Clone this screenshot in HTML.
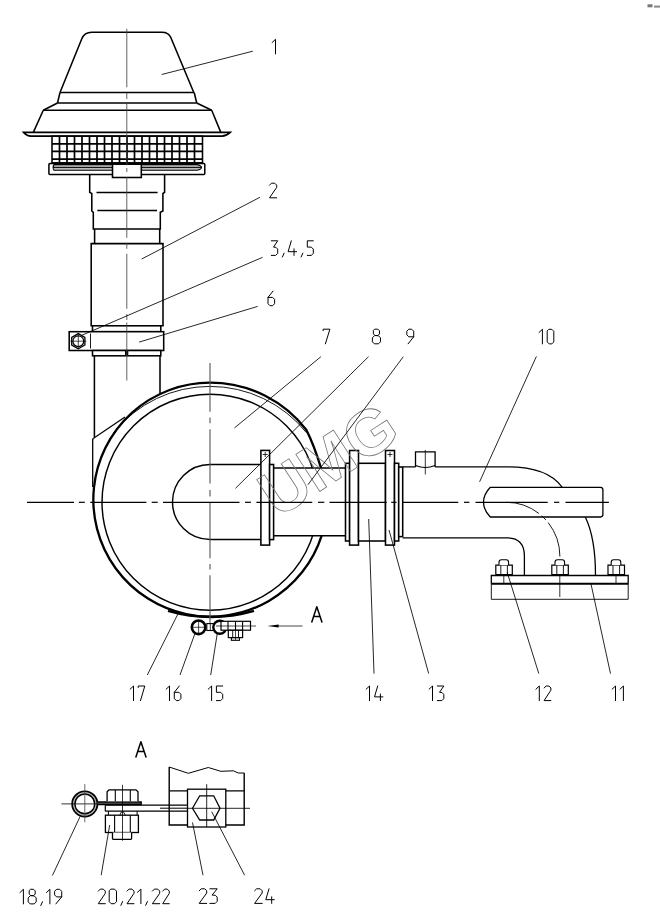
<!DOCTYPE html>
<html><head><meta charset="utf-8"><style>
html,body{margin:0;padding:0;background:#fff;width:660px;height:924px;overflow:hidden;font-family:"Liberation Sans",sans-serif;}
svg{display:block}
</style></head><body>
<svg width="660" height="924" viewBox="0 0 660 924" stroke-linecap="butt">
<rect x="0" y="0" width="660" height="924" fill="#fff"/>
<path d="M60,92.5 L81.7,39 Q84.4,32.3 91.7,32.3 L161.7,32.3 Q168.7,32.3 170.8,37.5 L193.8,92.5" stroke="#000" stroke-width="1.55" fill="none" />
<line x1="60.00" y1="92.50" x2="194.20" y2="92.50" stroke="#000" stroke-width="1.55" />
<line x1="60.00" y1="92.50" x2="57.50" y2="103.00" stroke="#000" stroke-width="1.55" />
<line x1="194.20" y1="92.50" x2="196.70" y2="103.00" stroke="#000" stroke-width="1.55" />
<line x1="57.50" y1="103.00" x2="196.70" y2="103.00" stroke="#000" stroke-width="1.55" />
<line x1="57.50" y1="103.00" x2="43.30" y2="110.30" stroke="#000" stroke-width="1.55" />
<line x1="196.70" y1="103.00" x2="211.70" y2="110.30" stroke="#000" stroke-width="1.55" />
<line x1="43.30" y1="110.30" x2="211.70" y2="110.30" stroke="#000" stroke-width="1.55" />
<line x1="43.30" y1="110.30" x2="33.30" y2="132.40" stroke="#000" stroke-width="1.55" />
<line x1="211.70" y1="110.30" x2="220.80" y2="132.40" stroke="#000" stroke-width="1.55" />
<path d="M23.6,132.4 L230.2,132.4 Q226,136.2 222,136.2 L31,136.2 Q27,136.2 23.6,132.4 Z" stroke="#000" stroke-width="1.7" fill="#fff" />
<rect x="52.00" y="136.20" width="150.50" height="26.80" stroke="#000" stroke-width="1.55" fill="#fff" rx="0"/>
<line x1="59.50" y1="136.20" x2="59.50" y2="163.00" stroke="#000" stroke-width="1.7" />
<line x1="67.00" y1="136.20" x2="67.00" y2="163.00" stroke="#000" stroke-width="1.7" />
<line x1="74.50" y1="136.20" x2="74.50" y2="163.00" stroke="#000" stroke-width="1.7" />
<line x1="82.00" y1="136.20" x2="82.00" y2="163.00" stroke="#000" stroke-width="1.7" />
<line x1="89.50" y1="136.20" x2="89.50" y2="163.00" stroke="#000" stroke-width="1.7" />
<line x1="97.00" y1="136.20" x2="97.00" y2="163.00" stroke="#000" stroke-width="1.7" />
<line x1="104.50" y1="136.20" x2="104.50" y2="163.00" stroke="#000" stroke-width="1.7" />
<line x1="112.00" y1="136.20" x2="112.00" y2="163.00" stroke="#000" stroke-width="1.7" />
<line x1="119.50" y1="136.20" x2="119.50" y2="163.00" stroke="#000" stroke-width="1.7" />
<line x1="127.00" y1="136.20" x2="127.00" y2="163.00" stroke="#000" stroke-width="1.7" />
<line x1="134.50" y1="136.20" x2="134.50" y2="163.00" stroke="#000" stroke-width="1.7" />
<line x1="142.00" y1="136.20" x2="142.00" y2="163.00" stroke="#000" stroke-width="1.7" />
<line x1="149.50" y1="136.20" x2="149.50" y2="163.00" stroke="#000" stroke-width="1.7" />
<line x1="157.00" y1="136.20" x2="157.00" y2="163.00" stroke="#000" stroke-width="1.7" />
<line x1="164.50" y1="136.20" x2="164.50" y2="163.00" stroke="#000" stroke-width="1.7" />
<line x1="172.00" y1="136.20" x2="172.00" y2="163.00" stroke="#000" stroke-width="1.7" />
<line x1="179.50" y1="136.20" x2="179.50" y2="163.00" stroke="#000" stroke-width="1.7" />
<line x1="187.00" y1="136.20" x2="187.00" y2="163.00" stroke="#000" stroke-width="1.7" />
<line x1="194.50" y1="136.20" x2="194.50" y2="163.00" stroke="#000" stroke-width="1.7" />
<line x1="52.00" y1="143.80" x2="202.50" y2="143.80" stroke="#000" stroke-width="1.7" />
<line x1="52.00" y1="151.40" x2="202.50" y2="151.40" stroke="#000" stroke-width="1.7" />
<line x1="52.00" y1="159.10" x2="202.50" y2="159.10" stroke="#000" stroke-width="1.7" />
<line x1="52.00" y1="163.20" x2="202.50" y2="163.20" stroke="#000" stroke-width="2.0" />
<rect x="48.90" y="163.50" width="155.90" height="11.00" stroke="#000" stroke-width="1.5" fill="#fff" rx="1.0"/>
<path d="M54,164.6 L197,164.6 Q201.5,165.6 201.5,167.4 Q201.5,169.2 197,170.3 L54,170.3 Q52.2,167.4 54,164.6 Z" stroke="#000" stroke-width="1.1" fill="#bbb" />
<line x1="53.00" y1="167.40" x2="201.30" y2="167.40" stroke="#000" stroke-width="1.0" />
<rect x="112.50" y="164.20" width="28.80" height="13.30" stroke="#000" stroke-width="1.55" fill="#fff" rx="0"/>
<path d="M89.7,175 L89.7,192.3 L91.8,193.5 L91.8,211 L93.3,212.3 L93.3,228.9 L160.3,228.9 L160.3,212.3 L162.9,211 L162.9,193.5 L164.6,192.3 L164.6,175" stroke="#000" stroke-width="1.55" fill="none" />
<line x1="96.50" y1="192.50" x2="157.60" y2="192.50" stroke="#000" stroke-width="1.55" />
<line x1="97.30" y1="210.50" x2="157.00" y2="210.50" stroke="#000" stroke-width="1.55" />
<path d="M94.6,228.9 L94.6,243.6 M159.7,228.9 L159.7,243.6" stroke="#000" stroke-width="1.55" fill="none" />
<path d="M91.2,325.8 L91.2,243.6 L163.0,243.6 L163.0,325.8" stroke="#000" stroke-width="1.55" fill="none" />
<line x1="90.50" y1="325.80" x2="163.70" y2="325.80" stroke="#000" stroke-width="1.55" />
<rect x="92.50" y="325.80" width="68.30" height="5.90" stroke="#000" stroke-width="1.55" fill="#fff" rx="0"/>
<rect x="69.20" y="331.70" width="94.50" height="18.80" stroke="#000" stroke-width="1.55" fill="#fff" rx="0"/>
<line x1="90.50" y1="333.50" x2="90.50" y2="348.50" stroke="#000" stroke-width="0.9" />
<rect x="92.50" y="350.50" width="68.30" height="5.30" stroke="#000" stroke-width="1.55" fill="#fff" rx="0"/>
<rect x="125" y="350.5" width="3.3" height="5.3" fill="#000"/>
<polygon points="84.88,345.00 78.30,348.80 71.72,345.00 71.72,337.40 78.30,333.60 84.88,337.40" stroke="#000" stroke-width="1.3" fill="#fff"/>
<circle cx="78.30" cy="341.20" r="5.40" stroke="#000" stroke-width="1.2" fill="none"/>
<line x1="70.30" y1="341.20" x2="86.30" y2="341.20" stroke="#000" stroke-width="0.7" />
<line x1="78.30" y1="333.20" x2="78.30" y2="349.20" stroke="#000" stroke-width="0.7" />
<line x1="94.40" y1="355.80" x2="94.40" y2="437.00" stroke="#000" stroke-width="1.55" />
<line x1="160.00" y1="355.80" x2="160.00" y2="393.60" stroke="#000" stroke-width="1.55" />
<line x1="92.50" y1="439.00" x2="125.00" y2="417.00" stroke="#000" stroke-width="1.2" />
<line x1="92.70" y1="439.00" x2="92.70" y2="487.00" stroke="#000" stroke-width="1.3" />
<line x1="126.80" y1="28.80" x2="126.80" y2="87.30" stroke="#444" stroke-width="0.85" />
<line x1="126.80" y1="93.10" x2="126.80" y2="99.00" stroke="#444" stroke-width="0.85" />
<line x1="126.80" y1="103.80" x2="126.80" y2="165.20" stroke="#444" stroke-width="0.85" />
<line x1="126.80" y1="168.00" x2="126.80" y2="172.00" stroke="#444" stroke-width="0.85" />
<line x1="126.80" y1="177.00" x2="126.80" y2="237.80" stroke="#444" stroke-width="0.85" />
<line x1="126.80" y1="242.80" x2="126.80" y2="248.80" stroke="#444" stroke-width="0.85" />
<line x1="126.80" y1="253.80" x2="126.80" y2="308.80" stroke="#444" stroke-width="0.85" />
<line x1="126.80" y1="314.00" x2="126.80" y2="320.00" stroke="#444" stroke-width="0.85" />
<line x1="126.80" y1="322.50" x2="126.80" y2="380.50" stroke="#444" stroke-width="0.85" />
<circle cx="210.00" cy="502.20" r="108.00" stroke="#000" stroke-width="1.45" fill="none"/>
<path d="M321.6,535.8 A117,117 0 1 1 210,382.6 C250,382.6 285,402 306.4,430 Q314,445 321,468" stroke="#000" stroke-width="2.3" fill="none" />
<path d="M168,610.8 Q211,623.2 254,610.8" stroke="#000" stroke-width="2.4" fill="none" />
<path d="M113.50,432.77 A123.6,123.6 0 0 1 306.50,432.77" stroke="#000" stroke-width="0.9" fill="none" />
<rect x="273.6" y="468" width="72" height="67.8" fill="#fff"/>
<path d="M210,464.5 L260.9,464.5 M210,539.5 L260.9,539.5 M210,464.5 A37.5,37.5 0 0 0 210,539.5" stroke="#000" stroke-width="1.45" fill="none" />
<rect x="260.90" y="450.40" width="8.70" height="94.70" stroke="#000" stroke-width="1.55" fill="#fff" rx="0"/>
<rect x="269.60" y="464.50" width="4.00" height="75.10" stroke="#000" stroke-width="1.55" fill="#fff" rx="0"/>
<line x1="273.60" y1="468.00" x2="345.50" y2="468.00" stroke="#000" stroke-width="1.55" />
<line x1="273.60" y1="535.80" x2="345.50" y2="535.80" stroke="#000" stroke-width="1.55" />
<rect x="345.50" y="463.30" width="4.10" height="77.70" stroke="#000" stroke-width="1.55" fill="#fff" rx="0"/>
<rect x="349.60" y="450.50" width="8.90" height="94.60" stroke="#000" stroke-width="1.55" fill="#fff" rx="0"/>
<rect x="358.50" y="463.30" width="27.00" height="77.70" stroke="#000" stroke-width="1.55" fill="#fff" rx="0"/>
<rect x="385.50" y="450.50" width="9.00" height="94.60" stroke="#000" stroke-width="1.55" fill="#fff" rx="0"/>
<rect x="394.50" y="463.30" width="4.20" height="77.70" stroke="#000" stroke-width="1.55" fill="#fff" rx="0"/>
<rect x="398.70" y="467.00" width="4.00" height="69.60" stroke="#000" stroke-width="1.55" fill="#fff" rx="0"/>
<line x1="262.70" y1="454.50" x2="267.70" y2="454.50" stroke="#000" stroke-width="0.8" />
<line x1="265.20" y1="452.00" x2="265.20" y2="457.00" stroke="#000" stroke-width="0.8" />
<line x1="387.50" y1="454.50" x2="392.50" y2="454.50" stroke="#000" stroke-width="0.8" />
<line x1="390.00" y1="452.00" x2="390.00" y2="457.00" stroke="#000" stroke-width="0.8" />
<text x="0" y="0" transform="translate(277.6,518.8) rotate(-33)" font-family="Liberation Sans" font-weight="bold" font-size="64" fill="none" stroke="#777" stroke-width="0.8">UMG</text>
<line x1="210.00" y1="363.00" x2="210.00" y2="411.70" stroke="#555" stroke-width="1.1" />
<line x1="210.00" y1="417.50" x2="210.00" y2="423.30" stroke="#555" stroke-width="1.1" />
<line x1="210.00" y1="429.20" x2="210.00" y2="483.60" stroke="#555" stroke-width="1.1" />
<line x1="210.00" y1="490.00" x2="210.00" y2="496.40" stroke="#555" stroke-width="1.1" />
<line x1="210.00" y1="502.20" x2="210.00" y2="558.20" stroke="#555" stroke-width="1.1" />
<line x1="210.00" y1="563.90" x2="210.00" y2="569.50" stroke="#555" stroke-width="1.1" />
<line x1="210.00" y1="575.20" x2="210.00" y2="630.50" stroke="#555" stroke-width="1.1" />
<line x1="27.00" y1="502.30" x2="74.00" y2="502.30" stroke="#000" stroke-width="1.2" />
<line x1="78.80" y1="502.30" x2="84.80" y2="502.30" stroke="#000" stroke-width="1.2" />
<line x1="90.30" y1="502.30" x2="146.40" y2="502.30" stroke="#000" stroke-width="1.2" />
<line x1="151.70" y1="502.30" x2="157.70" y2="502.30" stroke="#000" stroke-width="1.2" />
<line x1="163.00" y1="502.30" x2="239.50" y2="502.30" stroke="#000" stroke-width="1.2" />
<line x1="245.00" y1="502.30" x2="250.90" y2="502.30" stroke="#000" stroke-width="1.2" />
<line x1="256.40" y1="502.30" x2="312.30" y2="502.30" stroke="#000" stroke-width="1.2" />
<line x1="318.00" y1="502.30" x2="324.30" y2="502.30" stroke="#000" stroke-width="1.2" />
<line x1="329.50" y1="502.30" x2="386.70" y2="502.30" stroke="#000" stroke-width="1.2" />
<line x1="391.20" y1="502.30" x2="396.50" y2="502.30" stroke="#000" stroke-width="1.2" />
<line x1="402.60" y1="502.30" x2="458.30" y2="502.30" stroke="#000" stroke-width="1.2" />
<line x1="464.00" y1="502.30" x2="469.40" y2="502.30" stroke="#000" stroke-width="1.2" />
<line x1="475.50" y1="502.30" x2="547.70" y2="502.30" stroke="#000" stroke-width="1.2" />
<line x1="554.00" y1="502.30" x2="559.30" y2="502.30" stroke="#000" stroke-width="1.2" />
<line x1="565.50" y1="502.30" x2="608.90" y2="502.30" stroke="#000" stroke-width="1.2" />
<circle cx="198.60" cy="627.30" r="6.80" stroke="#000" stroke-width="2.6" fill="#fff"/>
<line x1="192.00" y1="627.30" x2="205.00" y2="627.30" stroke="#000" stroke-width="0.7" />
<line x1="198.60" y1="621.00" x2="198.60" y2="633.50" stroke="#000" stroke-width="0.7" />
<rect x="206.80" y="623.60" width="6.90" height="6.90" stroke="#000" stroke-width="1.1" fill="#fff" rx="0"/>
<line x1="210.30" y1="623.60" x2="210.30" y2="630.50" stroke="#000" stroke-width="0.8" />
<circle cx="219.80" cy="627.30" r="6.50" stroke="#000" stroke-width="2.4" fill="#fff"/>
<rect x="221.00" y="621.30" width="29.50" height="8.90" stroke="#000" stroke-width="1.2" fill="#fff" rx="0"/>
<line x1="228.00" y1="621.30" x2="228.00" y2="630.20" stroke="#000" stroke-width="1.1" />
<line x1="235.50" y1="621.30" x2="235.50" y2="630.20" stroke="#000" stroke-width="1.1" />
<line x1="242.60" y1="621.30" x2="242.60" y2="630.20" stroke="#000" stroke-width="1.1" />
<rect x="231.40" y="637.60" width="8.10" height="2.70" stroke="#000" stroke-width="1.1" fill="#fff" rx="0"/>
<rect x="228.30" y="630.30" width="14.30" height="7.30" stroke="#000" stroke-width="1.2" fill="#fff" rx="0"/>
<line x1="232.70" y1="630.30" x2="232.70" y2="637.60" stroke="#000" stroke-width="0.9" />
<line x1="238.50" y1="630.30" x2="238.50" y2="637.60" stroke="#000" stroke-width="0.9" />
<line x1="235.50" y1="630.30" x2="235.50" y2="640.30" stroke="#000" stroke-width="0.7" />
<line x1="216.00" y1="626.00" x2="256.00" y2="626.00" stroke="#000" stroke-width="0.7" />
<line x1="275.00" y1="626.00" x2="302.50" y2="626.00" stroke="#333" stroke-width="0.9" />
<polygon points="267.4,626 278.6,624.6 278.6,627.4" fill="#000"/>
<path d="M415.5,467 L415.5,451.8 L435.1,451.8 L435.1,467" stroke="#000" stroke-width="1.3" fill="none" />
<path d="M415.5,465.5 Q425.3,469.5 435.1,465.5" stroke="#000" stroke-width="1.2" fill="none" />
<line x1="425.30" y1="450.00" x2="425.30" y2="474.50" stroke="#000" stroke-width="0.8" />
<path d="M402.7,466.8 L415.5,466.8 M435.1,466.8 L507.7,466.8 C536,466.8 553,474 562.2,487.3" stroke="#000" stroke-width="1.3" fill="none" />
<path d="M402.7,537.8 L507,537.8 Q524.4,537.8 524.4,556 L524.4,575.5" stroke="#000" stroke-width="1.3" fill="none" />
<path d="M585.3,517 Q595.5,538 595.5,575.5" stroke="#000" stroke-width="1.3" fill="none" />
<path d="M490.3,487.3 L600.5,487.3 Q602.9,487.3 602.9,489.7 L602.9,514.6 Q602.9,517 600.5,517 L490.3,517 Q483.5,510 483.5,502.2 Q483.5,494.5 490.3,487.3 Z" stroke="#000" stroke-width="1.3" fill="none" />
<path d="M506.4,502.3 A53.5,54.2 0 0 1 559.9,556.5" stroke="#000" stroke-width="0.9" fill="none" stroke-dasharray="35 3.5 6 3.5 60"/>
<path d="M491.3,583.8 L491.3,575.5 L628.2,575.5 L628.2,583.8" stroke="#000" stroke-width="1.3" fill="none" />
<path d="M491.3,583.8 L491.3,599.3 L628.2,599.3 L628.2,583.8" stroke="#000" stroke-width="0.9" fill="none" />
<line x1="491.30" y1="583.80" x2="628.20" y2="583.80" stroke="#000" stroke-width="2.0" />
<path d="M495.8,574.5 L495.8,565.2 L512.3,565.2 L512.3,574.5 Z" stroke="#000" stroke-width="1.2" fill="#fff" />
<path d="M499.0,565.2 L499.0,562.2 Q499.0,559.8 501.40000000000003,559.8 L506.2,559.8 Q508.6,559.8 508.6,562.2 L508.6,565.2" stroke="#000" stroke-width="1.1" fill="#fff" />
<line x1="500.80" y1="565.20" x2="500.80" y2="574.50" stroke="#000" stroke-width="0.9" />
<line x1="507.40" y1="565.20" x2="507.40" y2="574.50" stroke="#000" stroke-width="0.9" />
<line x1="503.80" y1="575.50" x2="503.80" y2="583.80" stroke="#000" stroke-width="0.8" />
<path d="M551.8,574.5 L551.8,565.2 L568.3,565.2 L568.3,574.5 Z" stroke="#000" stroke-width="1.2" fill="#fff" />
<path d="M555.0,565.2 L555.0,562.2 Q555.0,559.8 557.4,559.8 L562.1999999999999,559.8 Q564.5999999999999,559.8 564.5999999999999,562.2 L564.5999999999999,565.2" stroke="#000" stroke-width="1.1" fill="#fff" />
<line x1="556.80" y1="565.20" x2="556.80" y2="574.50" stroke="#000" stroke-width="0.9" />
<line x1="563.40" y1="565.20" x2="563.40" y2="574.50" stroke="#000" stroke-width="0.9" />
<line x1="559.80" y1="575.50" x2="559.80" y2="583.80" stroke="#000" stroke-width="0.8" />
<path d="M608.0,574.5 L608.0,565.2 L624.5,565.2 L624.5,574.5 Z" stroke="#000" stroke-width="1.2" fill="#fff" />
<path d="M611.2,565.2 L611.2,562.2 Q611.2,559.8 613.6,559.8 L618.4,559.8 Q620.8,559.8 620.8,562.2 L620.8,565.2" stroke="#000" stroke-width="1.1" fill="#fff" />
<line x1="613.00" y1="565.20" x2="613.00" y2="574.50" stroke="#000" stroke-width="0.9" />
<line x1="619.60" y1="565.20" x2="619.60" y2="574.50" stroke="#000" stroke-width="0.9" />
<line x1="616.00" y1="575.50" x2="616.00" y2="583.80" stroke="#000" stroke-width="0.8" />
<line x1="559.80" y1="583.80" x2="559.80" y2="597.00" stroke="#000" stroke-width="0.8" />
<circle cx="84.80" cy="803.90" r="12.60" stroke="#000" stroke-width="1.8" fill="#fff"/>
<circle cx="84.80" cy="803.90" r="9.90" stroke="#000" stroke-width="1.5" fill="none"/>
<circle cx="84.80" cy="803.90" r="11.30" stroke="#666" stroke-width="0.5" fill="none"/>
<line x1="61.40" y1="803.90" x2="98.00" y2="803.90" stroke="#000" stroke-width="0.8" />
<line x1="84.80" y1="784.10" x2="84.80" y2="822.30" stroke="#444" stroke-width="0.8" />
<path d="M96.8,801.3 L141.9,801.3 L141.9,805.2 L96.8,805.2 Z" fill="#000" stroke="none"/>
<line x1="97.50" y1="803.20" x2="140.50" y2="803.20" stroke="#aaa" stroke-width="0.6" />
<line x1="105.30" y1="805.20" x2="187.50" y2="805.20" stroke="#000" stroke-width="1.2" />
<line x1="105.30" y1="811.20" x2="187.50" y2="811.20" stroke="#000" stroke-width="1.3" />
<line x1="105.30" y1="805.20" x2="105.30" y2="811.20" stroke="#000" stroke-width="1.2" />
<line x1="160.00" y1="808.20" x2="187.50" y2="808.20" stroke="#000" stroke-width="1.0" />
<path d="M107.1,801.3 L107.1,791.8 L109,789.8 L136,789.8 L138,791.8 L138,801.3" stroke="#000" stroke-width="1.3" fill="#fff" />
<line x1="115.30" y1="790.00" x2="115.30" y2="801.30" stroke="#000" stroke-width="1.1" />
<line x1="130.30" y1="790.00" x2="130.30" y2="801.30" stroke="#000" stroke-width="1.1" />
<path d="M108.4,811.2 L108.4,815.2 M137.1,811.2 L137.1,815.2" stroke="#000" stroke-width="1.0" fill="none" />
<path d="M119.8,815.2 L121.5,811.8 L123.5,811.8 L125.2,815.2" stroke="#000" stroke-width="0.9" fill="none" />
<rect x="105.40" y="815.20" width="33.00" height="17.30" stroke="#000" stroke-width="1.3" fill="#fff" rx="0"/>
<line x1="114.60" y1="815.20" x2="114.60" y2="832.50" stroke="#000" stroke-width="1.1" />
<line x1="130.30" y1="815.20" x2="130.30" y2="832.50" stroke="#000" stroke-width="1.1" />
<path d="M112.5,832.5 L112.5,838.6 Q112.5,839.3 113.2,839.3 L130.9,839.3 Q131.6,839.3 131.6,838.6 L131.6,832.5" stroke="#000" stroke-width="1.3" fill="#fff" />
<line x1="122.50" y1="784.80" x2="122.50" y2="840.70" stroke="#000" stroke-width="0.8" />
<path d="M244.2,773 L244.2,825 L169.2,825 L169.2,767" stroke="#000" stroke-width="1.4" fill="none" />
<path d="M169.2,767 L188.3,773.3 L208.3,767.5 L220.8,771.3 L233.3,770.8 L238.3,773 L244.2,773" stroke="#000" stroke-width="1.0" fill="none" />
<line x1="169.20" y1="790.80" x2="244.20" y2="790.80" stroke="#000" stroke-width="1.3" />
<rect x="187.50" y="789.20" width="38.30" height="37.80" stroke="#000" stroke-width="1.3" fill="#fff" rx="0"/>
<polygon points="192.5,808.3 199.7,795.8 213.7,795.8 220,808.3 213.7,820 199.7,820" fill="#fff" stroke="#000" stroke-width="1.3"/>
<line x1="206.70" y1="784.20" x2="206.70" y2="827.00" stroke="#000" stroke-width="0.85" />
<line x1="187.50" y1="808.30" x2="250.00" y2="808.30" stroke="#000" stroke-width="0.85" />
<line x1="161.70" y1="74.50" x2="252.80" y2="51.20" stroke="#000" stroke-width="0.85" />
<line x1="141.70" y1="259.00" x2="259.90" y2="197.30" stroke="#000" stroke-width="0.85" />
<line x1="81.80" y1="335.30" x2="262.60" y2="257.30" stroke="#000" stroke-width="0.85" />
<line x1="139.10" y1="342.10" x2="257.70" y2="306.40" stroke="#000" stroke-width="0.85" />
<line x1="234.50" y1="427.90" x2="320.90" y2="356.70" stroke="#000" stroke-width="0.85" />
<line x1="235.50" y1="488.30" x2="368.50" y2="356.70" stroke="#000" stroke-width="0.85" />
<line x1="307.90" y1="484.80" x2="403.30" y2="356.70" stroke="#000" stroke-width="0.85" />
<line x1="479.60" y1="481.80" x2="536.40" y2="356.40" stroke="#000" stroke-width="0.85" />
<line x1="178.30" y1="613.20" x2="147.30" y2="675.00" stroke="#000" stroke-width="0.85" />
<line x1="195.00" y1="633.30" x2="180.00" y2="675.00" stroke="#000" stroke-width="0.85" />
<line x1="217.30" y1="633.30" x2="210.70" y2="675.00" stroke="#000" stroke-width="0.85" />
<line x1="368.70" y1="519.00" x2="374.00" y2="673.60" stroke="#000" stroke-width="0.85" />
<line x1="389.00" y1="530.00" x2="428.70" y2="673.60" stroke="#000" stroke-width="0.85" />
<line x1="507.30" y1="572.70" x2="538.80" y2="673.60" stroke="#000" stroke-width="0.85" />
<line x1="591.00" y1="584.00" x2="610.50" y2="673.60" stroke="#000" stroke-width="0.85" />
<line x1="80.00" y1="816.70" x2="52.40" y2="875.50" stroke="#000" stroke-width="0.85" />
<line x1="109.70" y1="825.00" x2="101.20" y2="875.20" stroke="#000" stroke-width="0.85" />
<line x1="192.50" y1="822.50" x2="203.00" y2="875.20" stroke="#000" stroke-width="0.85" />
<line x1="211.70" y1="811.70" x2="244.60" y2="875.20" stroke="#000" stroke-width="0.85" />
<path d="M272.10,42.50 L275.50,39.30 L275.50,53.90" stroke="#000" stroke-width="1.0" fill="none" stroke-linejoin="round" stroke-linecap="round"/>
<path d="M269.50,185.20 L271.50,183.20 L274.70,183.20 L276.70,185.20 L276.70,187.40 L269.50,197.80 L276.70,197.80" stroke="#000" stroke-width="1.0" fill="none" stroke-linejoin="round" stroke-linecap="round"/>
<path d="M271.30,240.80 L277.70,240.80 L273.50,247.10 L275.90,247.30 L277.70,249.10 L277.70,253.40 L275.70,255.40 L271.30,255.40" stroke="#000" stroke-width="1.0" fill="none" stroke-linejoin="round" stroke-linecap="round"/>
<path d="M284.10,253.20 L282.40,257.00" stroke="#000" stroke-width="1.0" fill="none" stroke-linejoin="round" stroke-linecap="round"/>
<path d="M291.30,240.80 L288.10,251.68 L296.60,251.68 M294.00,248.83 L294.00,255.40" stroke="#000" stroke-width="1.0" fill="none" stroke-linejoin="round" stroke-linecap="round"/>
<path d="M302.80,253.20 L301.10,257.00" stroke="#000" stroke-width="1.0" fill="none" stroke-linejoin="round" stroke-linecap="round"/>
<path d="M313.30,240.80 L307.30,240.80 L307.30,247.10 L311.30,247.10 L313.30,249.10 L313.30,253.40 L311.30,255.40 L307.30,255.40" stroke="#000" stroke-width="1.0" fill="none" stroke-linejoin="round" stroke-linecap="round"/>
<path d="M273.00,291.10 L268.00,297.40 L268.00,303.70 L270.00,305.70 L272.60,305.70 L274.60,303.70 L274.60,299.40 L272.60,297.40 L268.00,297.40" stroke="#000" stroke-width="1.0" fill="none" stroke-linejoin="round" stroke-linecap="round"/>
<path d="M323.10,330.70 L323.10,329.20 L329.90,329.20 L325.40,343.80" stroke="#000" stroke-width="1.0" fill="none" stroke-linejoin="round" stroke-linecap="round"/>
<path d="M375.00,329.20 L377.90,329.20 L379.50,330.80 L379.50,333.90 L377.90,335.50 L375.00,335.50 L373.40,333.90 L373.40,330.80 Z M375.00,335.50 L378.50,335.80 L380.50,337.80 L380.50,341.80 L378.50,343.80 L374.40,343.80 L372.40,341.80 L372.40,337.80 L374.40,335.80" stroke="#000" stroke-width="1.0" fill="none" stroke-linejoin="round" stroke-linecap="round"/>
<path d="M413.70,336.80 L408.80,336.80 L406.80,334.80 L406.80,331.20 L408.80,329.20 L411.70,329.20 L413.70,331.20 L413.70,336.80 L408.10,343.80" stroke="#000" stroke-width="1.0" fill="none" stroke-linejoin="round" stroke-linecap="round"/>
<path d="M539.00,332.50 L542.40,329.30 L542.40,343.90" stroke="#000" stroke-width="1.0" fill="none" stroke-linejoin="round" stroke-linecap="round"/>
<path d="M549.20,329.30 L551.80,329.30 L553.80,331.30 L553.80,341.90 L551.80,343.90 L549.20,343.90 L547.20,341.90 L547.20,331.30 Z" stroke="#000" stroke-width="1.0" fill="none" stroke-linejoin="round" stroke-linecap="round"/>
<path d="M130.10,689.20 L133.50,686.00 L133.50,700.60" stroke="#000" stroke-width="1.0" fill="none" stroke-linejoin="round" stroke-linecap="round"/>
<path d="M138.20,687.50 L138.20,686.00 L144.80,686.00 L140.50,700.60" stroke="#000" stroke-width="1.0" fill="none" stroke-linejoin="round" stroke-linecap="round"/>
<path d="M166.10,689.20 L169.50,686.00 L169.50,700.60" stroke="#000" stroke-width="1.0" fill="none" stroke-linejoin="round" stroke-linecap="round"/>
<path d="M179.30,686.00 L174.30,692.30 L174.30,698.60 L176.30,700.60 L178.90,700.60 L180.90,698.60 L180.90,694.30 L178.90,692.30 L174.30,692.30" stroke="#000" stroke-width="1.0" fill="none" stroke-linejoin="round" stroke-linecap="round"/>
<path d="M208.20,689.20 L211.60,686.00 L211.60,700.60" stroke="#000" stroke-width="1.0" fill="none" stroke-linejoin="round" stroke-linecap="round"/>
<path d="M222.70,686.00 L216.40,686.00 L216.40,692.30 L220.70,692.30 L222.70,694.30 L222.70,698.60 L220.70,700.60 L216.40,700.60" stroke="#000" stroke-width="1.0" fill="none" stroke-linejoin="round" stroke-linecap="round"/>
<path d="M366.10,689.20 L369.50,686.00 L369.50,700.60" stroke="#000" stroke-width="1.0" fill="none" stroke-linejoin="round" stroke-linecap="round"/>
<path d="M377.70,686.00 L374.50,696.88 L382.90,696.88 M380.40,694.03 L380.40,700.60" stroke="#000" stroke-width="1.0" fill="none" stroke-linejoin="round" stroke-linecap="round"/>
<path d="M429.10,689.20 L432.50,686.00 L432.50,700.60" stroke="#000" stroke-width="1.0" fill="none" stroke-linejoin="round" stroke-linecap="round"/>
<path d="M437.30,686.00 L443.80,686.00 L439.50,692.30 L442.00,692.50 L443.80,694.30 L443.80,698.60 L441.80,700.60 L437.30,700.60" stroke="#000" stroke-width="1.0" fill="none" stroke-linejoin="round" stroke-linecap="round"/>
<path d="M535.90,689.20 L539.30,686.00 L539.30,700.60" stroke="#000" stroke-width="1.0" fill="none" stroke-linejoin="round" stroke-linecap="round"/>
<path d="M544.10,688.00 L546.10,686.00 L548.90,686.00 L550.90,688.00 L550.90,690.20 L544.10,700.60 L550.90,700.60" stroke="#000" stroke-width="1.0" fill="none" stroke-linejoin="round" stroke-linecap="round"/>
<path d="M612.10,689.20 L615.50,686.00 L615.50,700.60" stroke="#000" stroke-width="1.0" fill="none" stroke-linejoin="round" stroke-linecap="round"/>
<path d="M620.00,689.20 L623.40,686.00 L623.40,700.60" stroke="#000" stroke-width="1.0" fill="none" stroke-linejoin="round" stroke-linecap="round"/>
<path d="M20.00,892.50 L23.40,889.30 L23.40,903.90" stroke="#000" stroke-width="1.0" fill="none" stroke-linejoin="round" stroke-linecap="round"/>
<path d="M30.80,889.30 L33.60,889.30 L35.20,890.90 L35.20,894.00 L33.60,895.60 L30.80,895.60 L29.20,894.00 L29.20,890.90 Z M30.80,895.60 L34.20,895.90 L36.20,897.90 L36.20,901.90 L34.20,903.90 L30.20,903.90 L28.20,901.90 L28.20,897.90 L30.20,895.90" stroke="#000" stroke-width="1.0" fill="none" stroke-linejoin="round" stroke-linecap="round"/>
<path d="M42.50,901.70 L40.80,905.50" stroke="#000" stroke-width="1.0" fill="none" stroke-linejoin="round" stroke-linecap="round"/>
<path d="M46.50,892.50 L49.90,889.30 L49.90,903.90" stroke="#000" stroke-width="1.0" fill="none" stroke-linejoin="round" stroke-linecap="round"/>
<path d="M61.70,896.90 L56.60,896.90 L54.60,894.90 L54.60,891.30 L56.60,889.30 L59.70,889.30 L61.70,891.30 L61.70,896.90 L55.90,903.90" stroke="#000" stroke-width="1.0" fill="none" stroke-linejoin="round" stroke-linecap="round"/>
<path d="M98.30,891.10 L100.30,889.10 L103.30,889.10 L105.30,891.10 L105.30,893.30 L98.30,903.70 L105.30,903.70" stroke="#000" stroke-width="1.0" fill="none" stroke-linejoin="round" stroke-linecap="round"/>
<path d="M111.20,889.10 L114.50,889.10 L116.50,891.10 L116.50,901.70 L114.50,903.70 L111.20,903.70 L109.20,901.70 L109.20,891.10 Z" stroke="#000" stroke-width="1.0" fill="none" stroke-linejoin="round" stroke-linecap="round"/>
<path d="M122.60,901.50 L120.90,905.30" stroke="#000" stroke-width="1.0" fill="none" stroke-linejoin="round" stroke-linecap="round"/>
<path d="M127.00,891.10 L129.00,889.10 L132.00,889.10 L134.00,891.10 L134.00,893.30 L127.00,903.70 L134.00,903.70" stroke="#000" stroke-width="1.0" fill="none" stroke-linejoin="round" stroke-linecap="round"/>
<path d="M137.50,892.30 L140.90,889.10 L140.90,903.70" stroke="#000" stroke-width="1.0" fill="none" stroke-linejoin="round" stroke-linecap="round"/>
<path d="M147.40,901.50 L145.70,905.30" stroke="#000" stroke-width="1.0" fill="none" stroke-linejoin="round" stroke-linecap="round"/>
<path d="M152.40,891.10 L154.40,889.10 L157.70,889.10 L159.70,891.10 L159.70,893.30 L152.40,903.70 L159.70,903.70" stroke="#000" stroke-width="1.0" fill="none" stroke-linejoin="round" stroke-linecap="round"/>
<path d="M162.70,891.10 L164.70,889.10 L167.30,889.10 L169.30,891.10 L169.30,893.30 L162.70,903.70 L169.30,903.70" stroke="#000" stroke-width="1.0" fill="none" stroke-linejoin="round" stroke-linecap="round"/>
<path d="M199.20,890.80 L201.20,888.80 L204.70,888.80 L206.70,890.80 L206.70,893.00 L199.20,903.40 L206.70,903.40" stroke="#000" stroke-width="1.0" fill="none" stroke-linejoin="round" stroke-linecap="round"/>
<path d="M209.90,888.80 L217.20,888.80 L212.10,895.10 L215.40,895.30 L217.20,897.10 L217.20,901.40 L215.20,903.40 L209.90,903.40" stroke="#000" stroke-width="1.0" fill="none" stroke-linejoin="round" stroke-linecap="round"/>
<path d="M254.60,890.80 L256.60,888.80 L260.20,888.80 L262.20,890.80 L262.20,893.00 L254.60,903.40 L262.20,903.40" stroke="#000" stroke-width="1.0" fill="none" stroke-linejoin="round" stroke-linecap="round"/>
<path d="M269.00,888.80 L265.80,899.68 L274.30,899.68 M271.70,896.83 L271.70,903.40" stroke="#000" stroke-width="1.0" fill="none" stroke-linejoin="round" stroke-linecap="round"/>
<path d="M311.80,622.10 L316.80,606.80 L321.90,622.10 M313.80,616.44 L319.90,616.44" stroke="#000" stroke-width="1.5" fill="none" stroke-linejoin="round" stroke-linecap="round"/>
<path d="M135.90,757.10 L140.90,741.80 L146.00,757.10 M137.90,751.44 L144.00,751.44" stroke="#000" stroke-width="1.5" fill="none" stroke-linejoin="round" stroke-linecap="round"/>
<rect x="647.5" y="4.3" width="5" height="3" fill="#777"/>
<rect x="654" y="5.6" width="6" height="2" fill="#888"/>
</svg>
</body></html>
